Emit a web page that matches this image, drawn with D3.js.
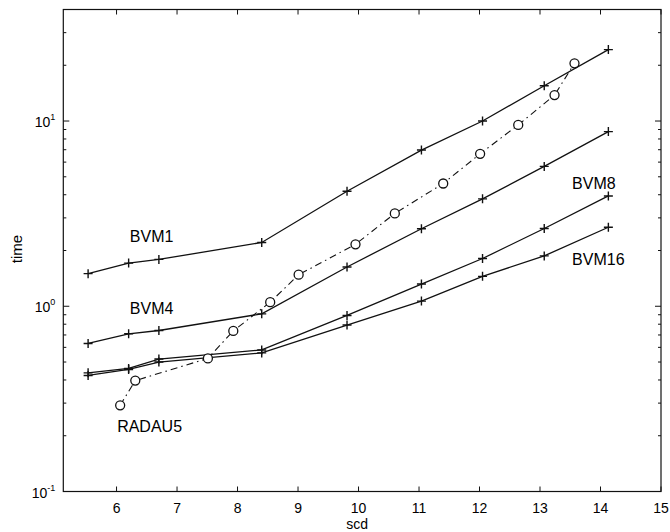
<!DOCTYPE html>
<html><head><meta charset="utf-8">
<script src="https://cdn.jsdelivr.net/npm/d3@7"></script>
<style>
body{margin:0;background:#fff;}
text{font-family:"Liberation Sans",Arial,sans-serif;fill:#000;}
</style></head>
<body><svg id="c" width="670" height="532"></svg>
<script>
const scd = [5.53, 6.2, 6.7, 8.4, 9.81, 11.04, 12.05, 13.07, 14.13];
const bvm1 = [1.50, 1.71, 1.79, 2.21, 4.18, 6.97, 10.0, 15.5, 24.3];
const bvm4 = [0.63, 0.71, 0.74, 0.91, 1.63, 2.62, 3.80, 5.69, 8.77];
const bvm8 = [0.437, 0.462, 0.519, 0.581, 0.892, 1.318, 1.81, 2.63, 3.94];
const bvm16 = [0.423, 0.456, 0.50, 0.56, 0.792, 1.066, 1.45, 1.87, 2.67];
const radauX = [6.06, 6.31, 7.51, 7.93, 8.54, 9.01, 9.95, 10.60, 11.40, 12.01, 12.64, 13.24, 13.57];
const radauY = [0.292, 0.397, 0.523, 0.736, 1.052, 1.48, 2.16, 3.17, 4.60, 6.65, 9.53, 13.8, 20.5];
const xTicks = [6, 7, 8, 9, 10, 11, 12, 13, 14, 15];
const yMajor = [0.1, 1, 10];
const yExp = ["-1", "0", "1"];
const labels = [
  {t:"BVM1", x:6.22, y:2.22},
  {t:"BVM4", x:6.22, y:0.909},
  {t:"BVM8", x:13.53, y:4.30},
  {t:"BVM16", x:13.53, y:1.66},
  {t:"RADAU5", x:6.01, y:0.2096}
];

const svg = d3.select("#c");
const L=63.3, R=661, T=9.5, B=491.5;
const x = d3.scaleLinear().domain([5.12, 15]).range([L, R]);
const y = d3.scaleLog().domain([0.1, 40]).range([B, T]);
const ink = "#111";

// frame
svg.append("rect").attr("x",L).attr("y",T).attr("width",R-L).attr("height",B-T)
  .attr("fill","none").attr("stroke",ink).attr("stroke-width",1.2);

// x ticks (inward, bottom & top)
const xa = svg.append("g");
xTicks.forEach(v=>{
  const px = x(v);
  xa.append("line").attr("x1",px).attr("x2",px).attr("y1",B).attr("y2",B-5).attr("stroke",ink);
  xa.append("line").attr("x1",px).attr("x2",px).attr("y1",T).attr("y2",T+5).attr("stroke",ink);
  xa.append("text").attr("x",px).attr("y",B+21).attr("text-anchor","middle")
    .attr("font-size",14).text(v);
});

// y ticks (log, inward, left & right)
const ya = svg.append("g");
const minor = [];
[0.1,1,10].forEach(d=>{ for(let k=2;k<=9;k++){ if(d*k<=40) minor.push(d*k);} });
minor.forEach(v=>{
  const py=y(v);
  ya.append("line").attr("x1",L).attr("x2",L+3).attr("y1",py).attr("y2",py).attr("stroke",ink);
  ya.append("line").attr("x1",R).attr("x2",R-3).attr("y1",py).attr("y2",py).attr("stroke",ink);
});
yMajor.forEach((v,i)=>{
  const py=y(v);
  ya.append("line").attr("x1",L).attr("x2",L+6).attr("y1",py).attr("y2",py).attr("stroke",ink);
  ya.append("line").attr("x1",R).attr("x2",R-6).attr("y1",py).attr("y2",py).attr("stroke",ink);
  const t = ya.append("text").attr("x",L-8).attr("y",py+6).attr("text-anchor","end").attr("font-size",14);
  t.append("tspan").text("10");
  t.append("tspan").attr("dy",-7).attr("font-size",9).text(yExp[i]);
});

// axis labels
svg.append("text").attr("x",(L+R)/2 - 5).attr("y",529).attr("text-anchor","middle").attr("font-size",14).text("scd");
svg.append("text").attr("transform",`translate(22,249) rotate(-90)`).attr("text-anchor","middle").attr("font-size",15).text("time");

// lines
const line = d3.line().x(d=>x(d[0])).y(d=>y(d[1]));
[bvm1,bvm4,bvm8,bvm16].forEach(s=>{
  const pts = scd.map((v,i)=>[v,s[i]]);
  svg.append("path").attr("d",line(pts)).attr("fill","none").attr("stroke",ink).attr("stroke-width",1.3);
  pts.forEach(p=>{
    const px=x(p[0]), py=y(p[1]);
    svg.append("path").attr("d",`M${px-4.5},${py}H${px+4.5}M${px},${py-4.5}V${py+4.5}`)
      .attr("stroke",ink).attr("stroke-width",1.4);
  });
});
const rpts = radauX.map((v,i)=>[v,radauY[i]]);
svg.append("path").attr("d",line(rpts)).attr("fill","none").attr("stroke",ink)
  .attr("stroke-width",1.1).attr("stroke-dasharray","7,4,1.5,4");
rpts.forEach(p=>{
  svg.append("circle").attr("cx",x(p[0])).attr("cy",y(p[1])).attr("r",4.5)
    .attr("fill","#fff").attr("stroke",ink).attr("stroke-width",1.3);
});

labels.forEach(l=>{
  svg.append("text").attr("x",x(l.x)).attr("y",y(l.y)).attr("font-size",16).text(l.t);
});
</script></body></html>
